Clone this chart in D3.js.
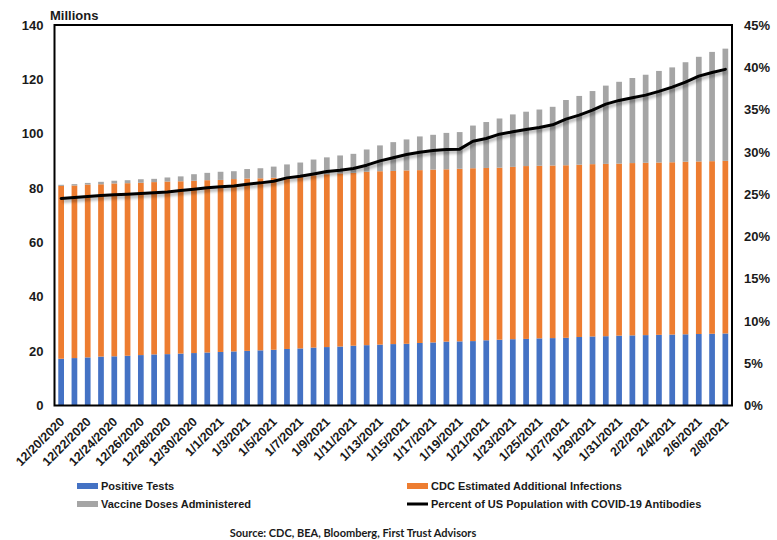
<!DOCTYPE html>
<html>
<head>
<meta charset="utf-8">
<script src="https://cdn.jsdelivr.net/npm/d3@7/dist/d3.min.js"></script>
<style>
  html, body { margin: 0; padding: 0; background: #fff; }
  svg { display: block; }
  text { font-family: Arial, "Liberation Sans", sans-serif; font-weight: bold; fill: #1a1a1a; }
</style>
</head>
<body>
<svg id="chart" width="777" height="540"></svg>
<script>
const dates = ["12/20/2020","12/21/2020","12/22/2020","12/23/2020","12/24/2020","12/25/2020","12/26/2020","12/27/2020","12/28/2020","12/29/2020","12/30/2020","12/31/2020",
  "1/1/2021","1/2/2021","1/3/2021","1/4/2021","1/5/2021","1/6/2021","1/7/2021","1/8/2021","1/9/2021","1/10/2021","1/11/2021","1/12/2021","1/13/2021","1/14/2021","1/15/2021","1/16/2021","1/17/2021","1/18/2021","1/19/2021","1/20/2021","1/21/2021","1/22/2021","1/23/2021","1/24/2021","1/25/2021","1/26/2021","1/27/2021","1/28/2021","1/29/2021","1/30/2021","1/31/2021",
  "2/1/2021","2/2/2021","2/3/2021","2/4/2021","2/5/2021","2/6/2021","2/7/2021","2/8/2021"];

// Millions
const positiveTests = [17.2,17.45,17.7,18.0,18.1,18.3,18.55,18.8,18.9,19.1,19.3,19.5,19.7,19.9,20.1,20.3,20.5,20.8,21.0,21.3,21.5,21.7,22.0,22.2,22.4,22.6,22.7,23.0,23.2,23.5,23.6,23.7,24.0,24.2,24.4,24.5,24.7,24.8,24.9,25.2,25.4,25.5,25.7,25.8,25.9,26.0,26.1,26.2,26.3,26.4,26.5];
const additionalInfections = [63.6,63.5,63.6,63.4,63.6,63.5,63.4,63.4,63.5,63.4,63.4,63.4,63.3,63.4,63.4,63.3,63.3,63.3,63.4,63.4,63.6,63.7,63.6,63.8,63.8,63.7,63.8,63.6,63.6,63.4,63.5,63.6,63.4,63.3,63.4,63.6,63.5,63.5,63.5,63.4,63.4,63.4,63.3,63.4,63.4,63.4,63.4,63.5,63.5,63.5,63.5];
const vaccineDoses = [0.4,0.5,0.6,0.9,1.0,1.1,1.3,1.2,1.5,1.8,2.4,2.7,3.0,2.9,3.5,3.7,4.1,4.6,5.0,5.8,6.2,6.6,7.0,8.2,9.5,10.6,11.4,12.4,12.8,13.4,13.5,15.7,16.9,18.1,19.3,20.0,20.7,21.6,24.0,25.3,26.9,28.8,30.1,31.3,32.4,33.7,34.9,36.6,38.5,40.2,41.3];
// Percent (right axis)
const pctAntibodies = [24.48,24.6,24.72,24.83,24.91,24.99,25.07,25.15,25.26,25.42,25.58,25.74,25.86,25.97,26.17,26.33,26.53,26.92,27.12,27.39,27.67,27.83,28.03,28.42,28.93,29.29,29.68,29.96,30.16,30.28,30.32,31.26,31.58,32.09,32.37,32.65,32.88,33.2,33.87,34.34,34.93,35.64,36.08,36.39,36.71,37.15,37.66,38.25,38.96,39.39,39.75];

const leftTicks = [0,20,40,60,80,100,120,140];
const rightTicks = [0,5,10,15,20,25,30,35,40,45];
const seriesNames = ["Positive Tests","CDC Estimated Additional Infections","Vaccine Doses Administered","Percent of US Population with COVID-19 Antibodies"];
const colors = ["#4472C4","#ED7D31","#A5A5A5","#000000"];
const sourceText = "Source: CDC, BEA, Bloomberg, First Trust Advisors";

const svg = d3.select("#chart");
const m = {left: 54.5, right: 732, top: 25, bottom: 405.5};

const x = d3.scaleBand().domain(dates).range([m.left, m.right]).paddingInner(0.57).paddingOuter(0.285);
const y = d3.scaleLinear().domain([0,140]).range([m.bottom, m.top]);
const y2 = d3.scaleLinear().domain([0,45]).range([m.bottom, m.top]);

const table = dates.map((d,i) => ({date: d, pos: positiveTests[i], add: additionalInfections[i], vac: vaccineDoses[i]}));
const stack = d3.stack().keys(["pos","add","vac"])(table);

const defs = svg.append("defs");
const f = defs.append("filter").attr("id","shadow").attr("x","-10%").attr("y","-50%").attr("width","120%").attr("height","200%");
f.append("feGaussianBlur").attr("stdDeviation", 1.4);

svg.append("g").selectAll("g").data(stack).join("g")
  .attr("fill", (d,i) => colors[i])
  .selectAll("rect").data(d => d).join("rect")
  .attr("x", d => x(d.data.date))
  .attr("width", x.bandwidth())
  .attr("y", d => y(d[1]))
  .attr("height", d => y(d[0]) - y(d[1]));

const line = d3.line().x((d,i) => x(dates[i]) + x.bandwidth()/2).y(d => y2(d));
svg.append("path").datum(pctAntibodies).attr("d", line)
  .attr("fill","none").attr("stroke","#000").attr("stroke-opacity",0.3).attr("stroke-width",3.5)
  .attr("transform","translate(1.5,2.5)").attr("filter","url(#shadow)");
svg.append("path").datum(pctAntibodies).attr("d", line)
  .attr("fill","none").attr("stroke","#000").attr("stroke-width",3).attr("stroke-linejoin","round").attr("stroke-linecap","round");

// frame
svg.append("rect").attr("x", m.left).attr("y", m.top).attr("width", m.right - m.left).attr("height", m.bottom - m.top)
  .attr("fill","none").attr("stroke","#000").attr("stroke-width",2);

// left axis
const ga = svg.append("g").attr("transform", `translate(${m.left},0)`)
  .call(d3.axisLeft(y).tickValues(leftTicks).tickSize(0).tickPadding(11).tickFormat(d3.format("d")));
ga.select(".domain").remove();
ga.selectAll("text").style("font-size","13px").style("font-family","Arial, 'Liberation Sans', sans-serif").style("font-weight","bold").attr("fill","#1a1a1a");

// right axis
const gb = svg.append("g").attr("transform", `translate(${m.right},0)`)
  .call(d3.axisRight(y2).tickValues(rightTicks).tickSize(0).tickPadding(12).tickFormat(d => d + "%"));
gb.select(".domain").remove();
gb.selectAll("text").style("font-size","13px").style("font-family","Arial, 'Liberation Sans', sans-serif").style("font-weight","bold").attr("fill","#1a1a1a");

// x axis labels (every other date)
const xLabels = dates.filter((d,i) => i % 2 === 0);
const gx = svg.append("g").attr("transform", `translate(0,${m.bottom})`)
  .call(d3.axisBottom(x).tickValues(xLabels).tickSize(0).tickPadding(0));
gx.select(".domain").remove();
gx.selectAll("text")
  .style("font-size","12.5px").style("font-family","Arial, 'Liberation Sans', sans-serif").style("font-weight","bold").attr("fill","#1a1a1a")
  .attr("text-anchor","end").attr("dy",null).attr("y",null)
  .attr("transform","translate(4,17) rotate(-45)");

// Millions label
svg.append("text").attr("x", 50).attr("y", 20).style("font-size","13px").text("Millions");

// legend
const legendItems = [
  {name: seriesNames[0], color: colors[0], type: "bar", x: 77, y: 486},
  {name: seriesNames[1], color: colors[1], type: "bar", x: 407, y: 486},
  {name: seriesNames[2], color: colors[2], type: "bar", x: 77, y: 504},
  {name: seriesNames[3], color: colors[3], type: "line", x: 407, y: 504}
];
const lg = svg.append("g").selectAll("g").data(legendItems).join("g")
  .attr("transform", d => `translate(${d.x},${d.y})`);
lg.append("rect").attr("x",0).attr("width",21)
  .attr("y", d => d.type === "bar" ? -3 : -1.5)
  .attr("height", d => d.type === "bar" ? 6 : 3)
  .attr("fill", d => d.color);
lg.append("text").attr("x",24).attr("y",4).style("font-size","11px").text(d => d.name);

svg.append("text").attr("x", 353).attr("y", 537).attr("text-anchor","middle")
  .style("font-family","Lato, 'Open Sans', sans-serif").style("font-size","11px").style("font-weight","bold")
  .text(sourceText);
</script>
</body>
</html>
